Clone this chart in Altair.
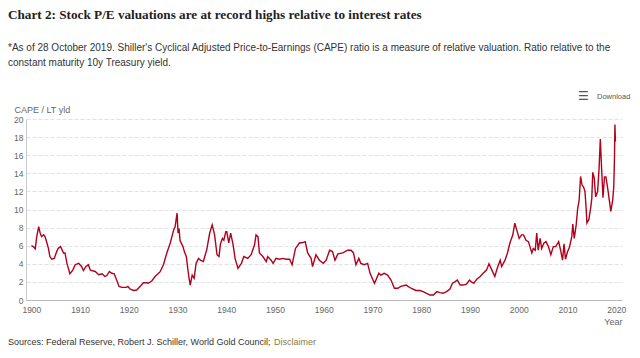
import altair as alt
import pandas as pd

# ---- data ----
years = [
    1900.0, 1900.4, 1900.8, 1901.1, 1901.5, 1901.8, 1902.1, 1902.5, 1902.8, 1903.2,
    1903.5, 1903.8, 1904.2, 1904.7, 1905.2, 1905.5, 1906.0, 1906.6, 1906.9, 1907.3,
    1907.6, 1907.9, 1908.5, 1909.0, 1909.7, 1910.3, 1910.7, 1911.2, 1911.7, 1912.1,
    1913.1, 1913.8, 1914.5, 1915.1, 1915.5, 1916.0, 1916.5, 1917.0, 1917.5, 1918.0,
    1918.6, 1919.5, 1919.8, 1920.3, 1921.0, 1921.6, 1922.3, 1923.0, 1923.7, 1924.0,
    1924.7, 1925.4, 1926.1, 1926.4, 1927.1, 1927.8, 1928.5, 1929.2, 1929.5, 1929.9,
    1930.1, 1930.3, 1930.5, 1931.1, 1931.4, 1931.8, 1932.3, 1932.6, 1933.0, 1933.4,
    1933.8, 1934.3, 1934.7, 1935.3, 1936.0, 1936.6, 1937.1, 1937.6, 1938.1, 1938.5,
    1938.8, 1939.2, 1939.5, 1939.9, 1940.1, 1940.5, 1940.9, 1941.4, 1941.8, 1942.4,
    1943.1, 1943.6, 1944.4, 1945.1, 1945.8, 1946.1, 1946.5, 1946.8, 1947.5, 1948.2,
    1948.5, 1949.2, 1949.6, 1950.2, 1950.9, 1951.6, 1952.3, 1953.0, 1953.5, 1954.2,
    1955.0, 1955.7, 1956.2, 1956.7, 1957.4, 1957.7, 1958.4, 1959.1, 1959.9, 1960.5,
    1961.2, 1961.8, 1962.3, 1962.9, 1963.9, 1964.9, 1965.6, 1966.1, 1966.6, 1967.2,
    1967.6, 1968.3, 1969.0, 1969.5, 1970.4, 1970.7, 1971.3, 1971.7, 1972.4, 1973.1,
    1973.8, 1974.5, 1975.2, 1975.8, 1976.9, 1977.9, 1978.9, 1979.7, 1980.4, 1981.1,
    1981.8, 1982.5, 1983.2, 1983.8, 1984.5, 1985.2, 1985.9, 1986.4, 1986.9, 1987.4,
    1988.0, 1988.6, 1989.3, 1989.9, 1990.3, 1990.8, 1991.4, 1992.1, 1992.7, 1993.4,
    1993.9, 1994.5, 1995.1, 1995.6, 1996.2, 1996.5, 1997.2, 1997.7, 1998.2, 1998.8,
    1999.2, 1999.7, 2000.1, 2000.6, 2001.0, 2001.5, 2002.0, 2002.7, 2003.0, 2003.4,
    2003.7, 2004.0, 2004.4, 2004.7, 2005.2, 2005.6, 2006.1, 2006.6, 2007.1, 2007.6,
    2008.2, 2008.6, 2009.0, 2009.3, 2009.6, 2010.0, 2010.4, 2010.9, 2011.1, 2011.4,
    2011.8, 2012.1, 2012.4, 2012.7, 2013.0, 2013.3, 2013.6, 2013.8, 2014.0, 2014.4,
    2014.8, 2015.0, 2015.2, 2015.5, 2015.8, 2016.2, 2016.5, 2016.75, 2017.0, 2017.3,
    2017.6, 2017.9, 2018.3, 2018.6, 2018.9, 2019.3, 2019.5, 2019.65, 2019.75, 2019.85,
]
ratio = [
    6.0, 5.9, 5.65, 7.0, 8.1, 7.4, 7.0, 7.2, 7.0, 6.3,
    5.7, 4.8, 4.5, 4.6, 5.35, 5.7, 5.9, 5.2, 5.2, 4.05,
    3.5, 2.9, 3.3, 3.9, 4.05, 3.7, 3.25, 3.7, 3.9, 3.3,
    3.15, 2.8, 2.9, 2.6, 2.7, 3.15, 2.95, 2.9, 2.2, 1.5,
    1.4, 1.4, 1.5, 1.2, 1.05, 1.1, 1.5, 1.9, 1.9, 1.85,
    2.1, 2.6, 2.95, 3.1, 3.9, 5.2, 6.3, 7.75, 8.1, 9.6,
    7.4, 7.9, 6.6, 5.9, 5.35, 4.8, 2.6, 1.65, 2.75, 2.4,
    4.05, 4.6, 4.4, 4.25, 5.6, 7.4, 8.3, 7.2, 5.0, 4.8,
    6.2, 6.8, 6.6, 7.55, 7.55, 6.3, 7.4, 6.1, 4.6, 3.5,
    4.05, 4.8, 4.6, 5.0, 6.1, 7.2, 7.0, 5.2, 4.8, 4.25,
    4.8, 4.4, 4.05, 4.6, 4.5, 4.6, 4.5, 4.5, 3.9, 5.7,
    6.3, 6.35, 6.45, 5.2, 4.6, 3.7, 5.0, 4.4, 4.05, 4.4,
    5.5, 5.35, 4.4, 5.1, 5.2, 5.5, 5.5, 5.2, 3.9, 4.6,
    4.05, 3.9, 4.05, 2.95, 1.85, 2.2, 2.95, 2.75, 2.95, 2.75,
    2.2, 1.3, 1.3, 1.5, 1.65, 1.3, 1.05, 1.05, 0.92, 0.74,
    0.55, 0.55, 0.92, 0.81, 0.74, 0.92, 1.2, 1.85, 2.0, 2.2,
    1.65, 1.65, 1.75, 2.2, 2.0, 1.85, 2.3, 2.6, 2.95, 3.3,
    4.0, 3.3, 2.6, 3.5, 4.4, 3.7, 4.4, 5.2, 6.3, 7.2,
    8.5, 7.55, 6.8, 7.2, 7.2, 6.6, 6.45, 5.2, 5.7, 5.5,
    7.4, 5.5, 6.8, 5.7, 6.3, 6.45, 5.9, 5.0, 5.9, 5.9,
    6.45, 5.5, 4.4, 6.2, 4.5, 5.3, 5.8, 7.0, 8.4, 6.8,
    8.3, 10.1, 11.0, 13.65, 12.7, 12.5, 12.0, 10.5, 8.5, 8.9,
    10.3, 11.2, 14.1, 13.5, 11.4, 12.0, 14.6, 17.8, 14.7, 11.3,
    13.6, 13.6, 12.2, 11.0, 9.8, 11.1, 12.4, 15.5, 19.4, 17.5,
]
x_ticks = [1900, 1910, 1920, 1930, 1940, 1950, 1960, 1970, 1980, 1990, 2000, 2010, 2020]
y_ticks = [0, 2, 4, 6, 8, 10, 12, 14, 16, 18, 20]

title_text = "Chart 2: Stock P/E valuations are at record highs relative to interest rates"
subtitle_lines = [
    "*As of 28 October 2019. Shiller's Cyclical Adjusted Price-to-Earnings (CAPE) ratio is a measure of relative valuation. Ratio relative to the",
    "constant maturity 10y Treasury yield.",
]
source_text = "Sources: Federal Reserve, Robert J. Schiller, World Gold Council;"
disclaimer_text = "Disclaimer"
download_text = "Download"

df = pd.DataFrame({"year": years, "ratio": ratio})

W, H = 596, 181
SANS = "Liberation Sans"

line = alt.Chart(df).mark_line(color="#b1001c", strokeWidth=1.4).encode(
    x=alt.X(
        "year:Q",
        scale=alt.Scale(domain=[1898.9, 2021.2], nice=False, zero=False),
        axis=alt.Axis(
            values=x_ticks, format="d", title="Year", grid=False,
            tickSize=0, labelPadding=5, labelFontSize=8.5, labelColor="#666",
            labelFont=SANS, domainColor="#bbb",
            titleX=W, titleY=24, titleAlign="right", titleBaseline="alphabetic",
            titleFontWeight="normal", titleFontSize=9, titleColor="#666", titleFont=SANS,
        ),
    ),
    y=alt.Y(
        "ratio:Q",
        scale=alt.Scale(domain=[0, 20], nice=False),
        axis=alt.Axis(
            values=y_ticks, title="CAPE / LT yld", grid=True,
            gridColor="#e2e2e2", gridDash=[4, 2], tickSize=0, labelPadding=3,
            labelFontSize=8.5, labelColor="#666", labelFont=SANS, domainColor="#ccc",
            titleAngle=0, titleX=-12, titleY=-7, titleAlign="left",
            titleBaseline="alphabetic", titleFontWeight="normal", titleFontSize=9,
            titleColor="#666", titleFont=SANS,
        ),
    ),
)

def label(text, x, y, size, color, font=SANS, weight="normal", align="left"):
    return alt.Chart(pd.DataFrame({"t": [text]})).mark_text(
        align=align, baseline="alphabetic", fontSize=size, color=color,
        font=font, fontWeight=weight,
    ).encode(text="t:N", x=alt.value(x), y=alt.value(y))

layers = [
    line,
    label(title_text, -18, -100, 13.2, "#222", font="Liberation Serif", weight="bold"),
    label(subtitle_lines[0], -18, -68, 10, "#333"),
    label(subtitle_lines[1], -18, -53, 10, "#333"),
    label("\u2630", 552, -19, 12, "#555", font="DejaVu Sans"),
    label(download_text, 571, -20, 7.5, "#555"),
    label(source_text, -18, 226, 9, "#333"),
    label(disclaimer_text, 248, 226, 9, "#8c7b3e"),
]

chart = alt.layer(*layers).properties(
    width=W, height=H,
    autosize=alt.AutoSizeParams(type="none"),
    padding={"left": 18, "top": 111, "right": 10, "bottom": 50},
    background="white",
).configure_view(stroke=None)

chart.save("out.html", embed_options={"renderer": "svg", "actions": False})
